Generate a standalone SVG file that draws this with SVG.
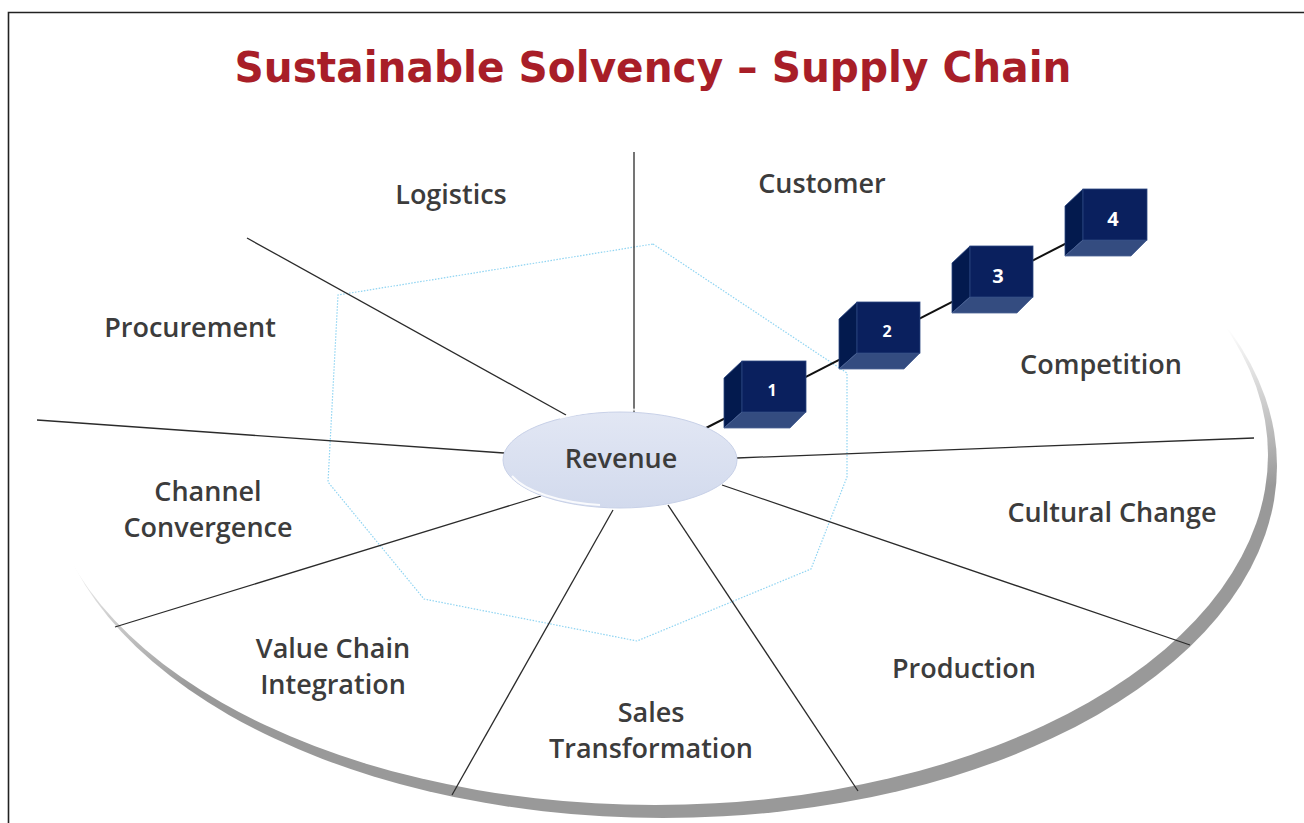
<svg xmlns="http://www.w3.org/2000/svg" width="1304" height="823" viewBox="0 0 1304 823">
<defs>
<style>
.lbl{font-family:"Open Sans","Liberation Sans",sans-serif;font-weight:600;font-size:27px;fill:#3c3c3c;text-anchor:middle}
.num{font-family:"Open Sans","Liberation Sans",sans-serif;font-weight:700;fill:#ffffff;text-anchor:middle}
.spoke{stroke:#2b2b2b;stroke-width:1.3;fill:none}
.front{fill:#0a205e;stroke:#2c4680;stroke-width:0.8}
.side{fill:#031a4e;stroke:#2c4680;stroke-width:0.8}
.bottom{fill:#344c80;stroke:#4b6396;stroke-width:0.8}
</style>
<linearGradient id="shadowFade" gradientUnits="userSpaceOnUse" x1="100" y1="540" x2="130" y2="700">
<stop offset="0" stop-color="#999" stop-opacity="0"/>
<stop offset="1" stop-color="#999" stop-opacity="1"/>
</linearGradient>
<linearGradient id="revFill" x1="0" y1="0" x2="0" y2="1">
<stop offset="0" stop-color="#e2e7f4"/>
<stop offset="1" stop-color="#d2daed"/>
</linearGradient>
</defs>
<rect x="0" y="0" width="1304" height="823" fill="#ffffff"/>
<path d="M8.5,823 V12.5 H1304" fill="none" stroke="#222" stroke-width="1.6"/>
<text x="653" y="82" font-family="'DejaVu Sans','Liberation Sans',sans-serif" font-weight="700" font-size="43" fill="#a81e28" text-anchor="middle" textLength="837" lengthAdjust="spacingAndGlyphs">Sustainable Solvency – Supply Chain</text>

<g id="disk">
<ellipse cx="663" cy="466" rx="614" ry="352" fill="url(#shadowFade)"/>
<ellipse cx="655" cy="455" rx="613" ry="350" fill="#ffffff"/>
</g>

<g id="radar">
<polygon points="653,244 847,373 847,477 811,569 637,641 424,599 328,482 338,295" fill="none" stroke="#8fd4f2" stroke-width="1.2" stroke-dasharray="1.5 1.5"/>
</g>

<g id="connectors">
<line class="spoke" x1="634" y1="152" x2="634" y2="414"/>
<line class="spoke" x1="247" y1="238" x2="566" y2="415"/>
<line class="spoke" x1="37" y1="420" x2="504" y2="453"/>
<line class="spoke" x1="115" y1="627" x2="541" y2="496"/>
<line class="spoke" x1="452" y1="795" x2="613" y2="510"/>
<line class="spoke" x1="858" y1="791" x2="668" y2="505"/>
<line class="spoke" x1="1190" y1="645" x2="722" y2="485"/>
<line class="spoke" x1="1254" y1="438" x2="737" y2="458"/>
<line x1="706" y1="428" x2="1100" y2="226" stroke="#111" stroke-width="2"/>
</g>

<g id="revenue">
<ellipse cx="620" cy="460" rx="117" ry="48" fill="url(#revFill)" stroke="#c8d1e8" stroke-width="1"/>
<path d="M512,476 A112,43 0 0 0 600,505" fill="none" stroke="#ffffff" stroke-width="2" opacity="0.85"/>
<path d="M560,418 A114,45 0 0 1 700,420" fill="none" stroke="#ffffff" stroke-width="2" opacity="0.8"/>
<text class="lbl" x="621" y="468">Revenue</text>
</g>

<g id="cube1">
<polygon class="side" points="724,378 742,361 742,412 724,428"/>
<polygon class="bottom" points="742,412 806,412 790,428 724,428"/>
<rect class="front" x="742" y="361" width="64" height="51"/>
<text class="num" x="772" y="396" font-size="16">1</text>
</g>
<g id="cube2">
<polygon class="side" points="839,319 857,302 857,353 839,369"/>
<polygon class="bottom" points="857,353 920,353 904,369 839,369"/>
<rect class="front" x="857" y="302" width="63" height="51"/>
<text class="num" x="887" y="337" font-size="16">2</text>
</g>
<g id="cube3">
<polygon class="side" points="952,263 970,246 970,297 952,313"/>
<polygon class="bottom" points="970,297 1033,297 1017,313 952,313"/>
<rect class="front" x="970" y="246" width="63" height="51"/>
<text class="num" x="998" y="283" font-size="20" font-weight="600">3</text>
</g>
<g id="cube4">
<polygon class="side" points="1065,206 1083,189 1083,240 1065,256"/>
<polygon class="bottom" points="1083,240 1147,240 1131,256 1065,256"/>
<rect class="front" x="1083" y="189" width="64" height="51"/>
<text class="num" x="1113" y="226" font-size="20" font-weight="600">4</text>
</g>

<g id="labels">
<text class="lbl" x="451" y="204">Logistics</text>
<text class="lbl" x="822" y="193">Customer</text>
<text class="lbl" x="190" y="337">Procurement</text>
<text class="lbl" x="1101" y="374">Competition</text>
<text class="lbl" x="208" y="501">Channel</text>
<text class="lbl" x="208" y="537">Convergence</text>
<text class="lbl" x="1112" y="522">Cultural Change</text>
<text class="lbl" x="333" y="658">Value Chain</text>
<text class="lbl" x="333" y="694">Integration</text>
<text class="lbl" x="964" y="678">Production</text>
<text class="lbl" x="651" y="722">Sales</text>
<text class="lbl" x="651" y="758">Transformation</text>
</g>
</svg>
